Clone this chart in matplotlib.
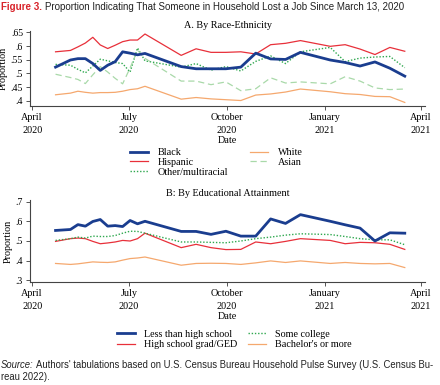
import matplotlib
matplotlib.use("Agg")
import matplotlib.pyplot as plt
import datetime as dt

# Household Pulse Survey week start dates
dates = ["2020-04-23", "2020-05-07", "2020-05-14", "2020-05-21", "2020-05-28",
         "2020-06-04", "2020-06-11", "2020-06-18", "2020-06-25", "2020-07-02",
         "2020-07-09", "2020-07-16", "2020-08-19", "2020-09-02", "2020-09-16",
         "2020-09-30", "2020-10-14", "2020-10-28", "2020-11-11", "2020-11-25",
         "2020-12-09", "2021-01-06", "2021-01-20", "2021-02-03", "2021-02-17",
         "2021-03-03", "2021-03-17"]

# Panel A: race-ethnicity
black = [0.523, 0.549, 0.554, 0.554, 0.536, 0.511, 0.530, 0.543, 0.579, 0.574,
         0.568, 0.573, 0.525, 0.517, 0.517, 0.517, 0.523, 0.574, 0.553, 0.551,
         0.577, 0.549, 0.540, 0.527, 0.542, 0.519, 0.490]
hispanic = [0.579, 0.584, 0.597, 0.611, 0.632, 0.604, 0.591, 0.603, 0.616, 0.622,
            0.622, 0.644, 0.566, 0.590, 0.577, 0.577, 0.579, 0.571, 0.605, 0.610,
            0.620, 0.599, 0.605, 0.589, 0.569, 0.595, 0.581]
other = [0.533, 0.530, 0.515, 0.502, 0.527, 0.552, 0.546, 0.540, 0.536, 0.505,
         0.593, 0.546, 0.523, 0.536, 0.512, 0.525, 0.509, 0.544, 0.564, 0.536,
         0.579, 0.595, 0.543, 0.556, 0.560, 0.562, 0.521]
white = [0.422, 0.428, 0.435, 0.431, 0.428, 0.430, 0.430, 0.431, 0.435, 0.441,
         0.444, 0.453, 0.406, 0.412, 0.407, 0.404, 0.401, 0.421, 0.425, 0.432,
         0.443, 0.433, 0.426, 0.423, 0.416, 0.415, 0.394]
asian = [0.497, 0.485, 0.478, 0.463, 0.495, 0.525, 0.505, 0.482, 0.462, 0.520,
         0.585, 0.555, 0.472, 0.472, 0.459, 0.469, 0.437, 0.444, 0.484, 0.465,
         0.469, 0.462, 0.488, 0.472, 0.447, 0.441, 0.443]

# Panel B: educational attainment
less_hs = [0.554, 0.559, 0.584, 0.576, 0.600, 0.610, 0.576, 0.579, 0.574, 0.605,
           0.588, 0.601, 0.549, 0.549, 0.534, 0.550, 0.525, 0.525, 0.613, 0.590,
           0.635, 0.601, 0.583, 0.566, 0.500, 0.542, 0.540]
hs_grad = [0.498, 0.512, 0.515, 0.512, 0.498, 0.486, 0.490, 0.495, 0.503, 0.500,
           0.512, 0.540, 0.466, 0.483, 0.466, 0.456, 0.457, 0.495, 0.486, 0.498,
           0.512, 0.503, 0.486, 0.493, 0.491, 0.483, 0.457]
some_college = [0.503, 0.512, 0.520, 0.515, 0.525, 0.523, 0.523, 0.528, 0.540, 0.550,
                0.549, 0.540, 0.495, 0.495, 0.493, 0.491, 0.500, 0.512, 0.520, 0.530,
                0.537, 0.533, 0.523, 0.512, 0.506, 0.506, 0.481]
bachelors = [0.385, 0.380, 0.383, 0.388, 0.393, 0.391, 0.390, 0.393, 0.402, 0.410,
             0.413, 0.418, 0.376, 0.385, 0.386, 0.385, 0.380, 0.388, 0.398, 0.390,
             0.398, 0.385, 0.390, 0.385, 0.383, 0.385, 0.364]

xtick_dates = ["2020-04-01", "2020-07-01", "2020-10-01", "2021-01-01", "2021-04-01"]
xtick_labels = ["April\n2020", "July\n2020", "October\n2020", "January\n2021", "April\n2021"]
ytick_a = [0.4, 0.45, 0.5, 0.55, 0.6, 0.65]
ytick_a_labels = [".4", ".45", ".5", ".55", ".6", ".65"]
ytick_b = [0.3, 0.4, 0.5, 0.6, 0.7]
ytick_b_labels = [".3", ".4", ".5", ".6", ".7"]

x = [dt.datetime.strptime(d, "%Y-%m-%d") for d in dates]
xt = [dt.datetime.strptime(d, "%Y-%m-%d") for d in xtick_dates]

SERIF = "Liberation Serif"
SANS = "Liberation Sans"
FS = 7.3

NAVY = "#1a3d8f"
RED = "#e8303a"
GREEN = "#2fa84f"
ORANGE = "#f5a86e"
LGREEN = "#a9d9a9"

fig = plt.figure(figsize=(4.4, 3.85), dpi=100)
W, H = 440, 385

def fx(px):
    return px / W

def fy(py):
    return 1 - py / H

axA = fig.add_axes([fx(30), fy(106), fx(425 - 30), (106 - 31) / H])
axB = fig.add_axes([fx(30), fy(282), fx(425 - 30), (282 - 200) / H])

def style(ax, yt, ytl, ylim):
    ax.set_xlim(dt.datetime(2020, 3, 30), dt.datetime(2021, 4, 5))
    ax.set_ylim(*ylim)
    ax.set_xticks(xt)
    ax.set_xticklabels(xtick_labels, fontsize=FS, family=SERIF, linespacing=1.55)
    ax.set_yticks(yt)
    ax.set_yticklabels(ytl, fontsize=FS - 0.3, family=SERIF)
    ax.tick_params(axis="both", length=3, width=0.7, color="#555555", pad=2)
    for s in ["top", "right"]:
        ax.spines[s].set_visible(False)
    for s in ["left", "bottom"]:
        ax.spines[s].set_linewidth(0.8)
        ax.spines[s].set_color("#444444")
    ax.set_xlabel("Date", fontsize=FS, family=SERIF, labelpad=1)
    ax.set_ylabel("Proportion", fontsize=FS, family=SERIF, labelpad=2)

# Panel A
axA.plot(x, black, color=NAVY, lw=2.0, label="Black", zorder=5)
axA.plot(x, hispanic, color=RED, lw=0.9, label="Hispanic")
axA.plot(x, other, color=GREEN, lw=1.0, ls=(0, (1, 1.3)), label="Other/multiracial")
axA.plot(x, white, color=ORANGE, lw=0.9, label="White")
axA.plot(x, asian, color=LGREEN, lw=0.9, ls=(0, (5, 3)), label="Asian")
style(axA, ytick_a, ytick_a_labels, (0.381, 0.655))
axA.set_title("A. By Race-Ethnicity", fontsize=FS, family=SERIF, pad=2)
axA.legend(ncol=2, loc="upper left", bbox_to_anchor=(fx(130 - 30) / fx(395), -0.56),
           frameon=False, prop={"family": SERIF, "size": FS},
           handlelength=1.8, handletextpad=0.9, columnspacing=2.2,
           labelspacing=0.08, borderpad=0, borderaxespad=0)

# Panel B
axB.plot(x, less_hs, color=NAVY, lw=2.0, label="Less than high school", zorder=5)
axB.plot(x, hs_grad, color=RED, lw=0.9, label="High school grad/GED")
axB.plot(x, some_college, color=GREEN, lw=1.0, ls=(0, (1, 1.3)), label="Some college")
axB.plot(x, bachelors, color=ORANGE, lw=0.9, label="Bachelor's or more")
style(axB, ytick_b, ytick_b_labels, (0.29, 0.71))
axB.set_title("B: By Educational Attainment", fontsize=FS, family=SERIF, pad=3)
axB.legend(ncol=2, loc="upper left", bbox_to_anchor=(fx(117 - 30) / fx(395), -0.58),
           frameon=False, prop={"family": SERIF, "size": FS},
           handlelength=1.8, handletextpad=0.9, columnspacing=1.0,
           labelspacing=0.15, borderpad=0, borderaxespad=0)

renderer = fig.canvas.get_renderer()

def fit_pair(first, rest, y, target_right, base, first_kw, rest_kw):
    """Place two adjacent texts on one line, sized so the line ends at target_right px."""
    size = base
    for _ in range(3):
        t1 = fig.text(fx(1), fy(y), first, fontsize=size, va="center", ha="left", **first_kw)
        bb1 = t1.get_window_extent(renderer=renderer)
        t2 = fig.text(bb1.x1 / W + fx(2.5), fy(y), rest, fontsize=size, va="center",
                      ha="left", **rest_kw)
        bb2 = t2.get_window_extent(renderer=renderer)
        if abs(bb2.x1 - target_right) < 1:
            return size
        newsize = size * (target_right - 1) / (bb2.x1 - 1)
        t1.remove()
        t2.remove()
        size = newsize
    t1 = fig.text(fx(1), fy(y), first, fontsize=size, va="center", ha="left", **first_kw)
    bb1 = t1.get_window_extent(renderer=renderer)
    fig.text(bb1.x1 / W + fx(2.5), fy(y), rest, fontsize=size, va="center", ha="left", **rest_kw)
    return size

fit_pair("Figure 3.",
         "Proportion Indicating That Someone in Household Lost a Job Since March 13, 2020",
         7, 405, 7.0,
         dict(color="#d8232a", family=SANS, weight="bold"),
         dict(color="#222222", family=SANS))

src_size = fit_pair("Source:",
                    "Authors' tabulations based on U.S. Census Bureau Household Pulse Survey (U.S. Census Bu-",
                    365, 436, 7.0,
                    dict(color="#222222", family=SANS, style="italic"),
                    dict(color="#222222", family=SANS))
fig.text(fx(1), fy(377), "reau 2022).", fontsize=src_size, family=SANS,
         va="center", ha="left", color="#222222")

fig.savefig("out.png", dpi=100)
